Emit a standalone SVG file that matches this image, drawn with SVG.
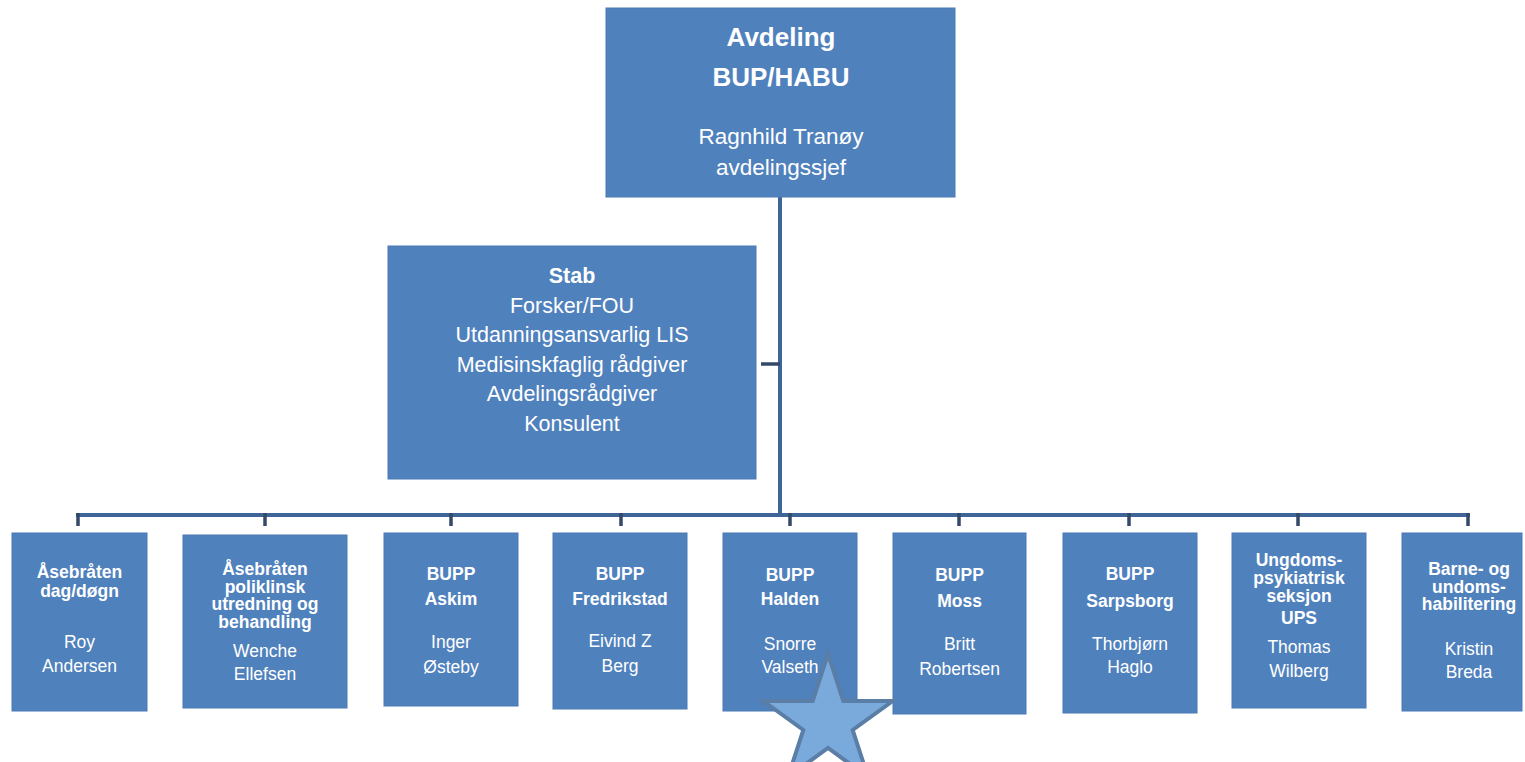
<svg xmlns="http://www.w3.org/2000/svg" width="1525" height="762" viewBox="0 0 1525 762">
<style>
.box{fill:#4f81bd;stroke:#4a7ab4;stroke-width:1}
text{font-family:"Liberation Sans",Arial,sans-serif;fill:#ffffff;text-anchor:middle}
.b{font-weight:bold}
.t1{font-size:26px;font-weight:bold}
.t2{font-size:22.5px}
.s{font-size:21.5px}
.n{font-size:17.5px}
.bus{stroke:#3f6498;stroke-width:4;fill:none}
.stub{stroke:#34496a;stroke-width:3.5;fill:none}
</style>
<rect width="1525" height="762" fill="#ffffff"/>
<g id="connectors">
<line class="bus" x1="780" y1="196" x2="780" y2="517"/>
<line class="bus" x1="76" y1="515" x2="1470" y2="515"/>
<line class="stub" x1="761" y1="364" x2="780" y2="364"/>
<line class="stub" x1="78" y1="513" x2="78" y2="526"/>
<line class="stub" x1="265" y1="513" x2="265" y2="526"/>
<line class="stub" x1="451" y1="513" x2="451" y2="526"/>
<line class="stub" x1="621" y1="513" x2="621" y2="526"/>
<line class="stub" x1="790" y1="513" x2="790" y2="526"/>
<line class="stub" x1="959" y1="513" x2="959" y2="526"/>
<line class="stub" x1="1129" y1="513" x2="1129" y2="526"/>
<line class="stub" x1="1298" y1="513" x2="1298" y2="526"/>
<line class="stub" x1="1468" y1="513" x2="1468" y2="526"/>
</g>
<g id="avdeling">
<rect class="box" x="606" y="8" width="349" height="189"/>
<text x="781" y="46" class="t1">Avdeling</text>
<text x="781" y="86" class="t1">BUP/HABU</text>
<text x="781" y="144" class="t2">Ragnhild Tranøy</text>
<text x="781" y="175" class="t2">avdelingssjef</text>
</g>
<g id="stab">
<rect class="box" x="388" y="246" width="368" height="233"/>
<text x="572" y="283" class="s b">Stab</text>
<text x="572" y="312.5" class="s">Forsker/FOU</text>
<text x="572" y="342" class="s">Utdanningsansvarlig LIS</text>
<text x="572" y="371.5" class="s">Medisinskfaglig rådgiver</text>
<text x="572" y="401" class="s">Avdelingsrådgiver</text>
<text x="572" y="430.5" class="s">Konsulent</text>
</g>
<g id="asebraten-dag">
<rect class="box" x="12" y="533" width="135" height="178"/>
<text x="79.5" y="578" class="n b">Åsebråten</text>
<text x="79.5" y="597" class="n b">dag/døgn</text>
<text x="79.5" y="648" class="n">Roy</text>
<text x="79.5" y="672" class="n">Andersen</text>
</g>
<g id="asebraten-poli">
<rect class="box" x="183" y="535" width="164" height="173"/>
<text x="265" y="575" class="n b">Åsebråten</text>
<text x="265" y="592.5" class="n b">poliklinsk</text>
<text x="265" y="610" class="n b">utredning og</text>
<text x="265" y="627.5" class="n b">behandling</text>
<text x="265" y="657" class="n">Wenche</text>
<text x="265" y="680" class="n">Ellefsen</text>
</g>
<g id="bupp-askim">
<rect class="box" x="384" y="533" width="134" height="173"/>
<text x="451" y="580" class="n b">BUPP</text>
<text x="451" y="605" class="n b">Askim</text>
<text x="451" y="648" class="n">Inger</text>
<text x="451" y="673" class="n">Østeby</text>
</g>
<g id="bupp-fredrikstad">
<rect class="box" x="553" y="533" width="134" height="176"/>
<text x="620" y="580" class="n b">BUPP</text>
<text x="620" y="605" class="n b">Fredrikstad</text>
<text x="620" y="647" class="n">Eivind Z</text>
<text x="620" y="672" class="n">Berg</text>
</g>
<g id="bupp-halden">
<rect class="box" x="723" y="533" width="134" height="178"/>
<text x="790" y="581" class="n b">BUPP</text>
<text x="790" y="605" class="n b">Halden</text>
<text x="790" y="650" class="n">Snorre</text>
<text x="790" y="673" class="n">Valseth</text>
</g>
<g id="bupp-moss">
<rect class="box" x="893" y="533" width="133" height="181"/>
<text x="959.5" y="581" class="n b">BUPP</text>
<text x="959.5" y="607" class="n b">Moss</text>
<text x="959.5" y="650" class="n">Britt</text>
<text x="959.5" y="675" class="n">Robertsen</text>
</g>
<g id="bupp-sarpsborg">
<rect class="box" x="1063" y="533" width="134" height="180"/>
<text x="1130" y="580" class="n b">BUPP</text>
<text x="1130" y="607" class="n b">Sarpsborg</text>
<text x="1130" y="650" class="n">Thorbjørn</text>
<text x="1130" y="673" class="n">Haglo</text>
</g>
<g id="ups">
<rect class="box" x="1232" y="533" width="134" height="175"/>
<text x="1299" y="566" class="n b">Ungdoms-</text>
<text x="1299" y="584" class="n b">psykiatrisk</text>
<text x="1299" y="602" class="n b">seksjon</text>
<text x="1299" y="624" class="n b">UPS</text>
<text x="1299" y="653" class="n">Thomas</text>
<text x="1299" y="677" class="n">Wilberg</text>
</g>
<g id="habilitering">
<rect class="box" x="1402" y="533" width="120" height="178"/>
<text x="1469" y="575" class="n b">Barne- og</text>
<text x="1469" y="593" class="n b">undoms-</text>
<text x="1469" y="610" class="n b">habilitering</text>
<text x="1469" y="655" class="n">Kristin</text>
<text x="1469" y="678" class="n">Breda</text>
</g>
<g id="star">
<polygon points="828,654 843.3,701 892.7,701 852.7,730 868,777 828,748 788,777 803.3,730 763.3,701 812.7,701" fill="#7aa9dc" stroke="#5a7ea6" stroke-width="4" stroke-linejoin="miter"/>
</g>
</svg>
